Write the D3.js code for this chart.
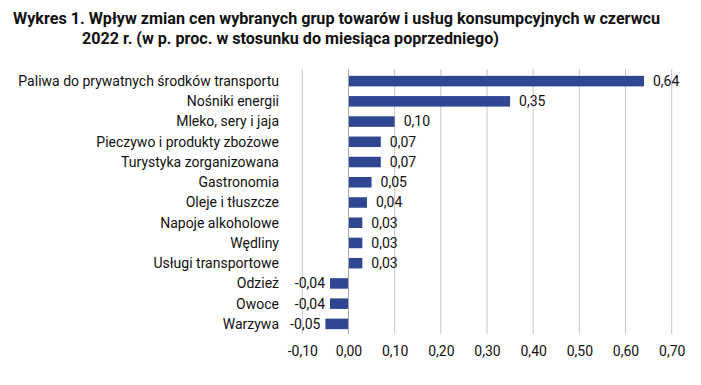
<!DOCTYPE html>
<html>
<head>
<meta charset="utf-8">
<script src="https://cdn.jsdelivr.net/npm/d3@7"></script>
<style>
    body { margin: 0; background: #fff; }
    svg text { font-family: "Roboto", "Liberation Sans", sans-serif; fill: #111; }
</style>
</head>
<body>
<svg id="chart" width="701" height="385"></svg>
<script>
// Chart data.
const categories = [
    "Paliwa do prywatnych środków transportu",
    "Nośniki energii",
    "Mleko, sery i jaja",
    "Pieczywo i produkty zbożowe",
    "Turystyka zorganizowana",
    "Gastronomia",
    "Oleje i tłuszcze",
    "Napoje alkoholowe",
    "Wędliny",
    "Usługi transportowe",
    "Odzież",
    "Owoce",
    "Warzywa"
];
const values = [0.64, 0.35, 0.10, 0.07, 0.07, 0.05, 0.04, 0.03, 0.03, 0.03, -0.04, -0.04, -0.05];
const tickValues = [-0.1, 0, 0.1, 0.2, 0.3, 0.4, 0.5, 0.6, 0.7];
const titleLines = [
    "Wykres 1. Wpływ zmian cen wybranych grup towarów i usług konsumpcyjnych w czerwcu",
    "2022 r. (w p. proc. w stosunku do miesiąca poprzedniego)"
];

// Display parameters.
let barColour = "#2f4793";
let gridColour = "#c6c6c6";
let fontSize = 14;
let fmt = v => d3.format(".2f")(v).replace(".", ",").replace("−", "-");

let svg = d3.select("#chart");

// Title, squeezed to the width of the condensed original.
let title = svg.append("g");
title.append("text")
    .attr("x", 13).attr("y", 24)
    .attr("font-size", 16).attr("font-weight", "bold")
    .attr("textLength", 647).attr("lengthAdjust", "spacingAndGlyphs")
    .text(titleLines[0]);
title.append("text")
    .attr("x", 82).attr("y", 44)
    .attr("font-size", 16).attr("font-weight", "bold")
    .attr("textLength", 417).attr("lengthAdjust", "spacingAndGlyphs")
    .text(titleLines[1]);

// Scales.
let x = d3.scaleLinear().domain([-0.1, 0.7]).range([302.3, 671.7]);
let y = d3.scaleBand().domain(categories).range([71, 334]).paddingInner(0.48).paddingOuter(0.24);

// Vertical gridlines.
svg.append("g")
    .selectAll("line")
    .data(tickValues)
    .enter()
    .append("line")
    .attr("x1", d => x(d)).attr("x2", d => x(d))
    .attr("y1", 69).attr("y2", 334)
    .attr("stroke", gridColour)
    .attr("stroke-width", 1);

// X axis tick labels.
let xAxis = svg.append("g")
    .attr("transform", "translate(0,343)")
    .call(d3.axisBottom(x).tickValues(tickValues).tickSize(0).tickFormat(fmt));
xAxis.select(".domain").remove();
xAxis.selectAll("text")
    .attr("font-size", fontSize)
    .attr("font-family", null)
    .attr("fill", "#111");

// Bars.
svg.append("g")
    .selectAll("rect")
    .data(values)
    .enter()
    .append("rect")
    .attr("x", d => x(Math.min(0, d)))
    .attr("y", (d, i) => y(categories[i]))
    .attr("width", d => Math.abs(x(d) - x(0)))
    .attr("height", y.bandwidth())
    .attr("fill", barColour);

// Zero line.
svg.append("line")
    .attr("x1", x(0)).attr("x2", x(0))
    .attr("y1", 69).attr("y2", 334)
    .attr("stroke", "#a8a8a8");

// Category labels.
svg.append("g")
    .selectAll("text")
    .data(categories)
    .enter()
    .append("text")
    .attr("x", 279)
    .attr("y", d => y(d) + y.bandwidth() / 2)
    .attr("dy", "0.35em")
    .attr("text-anchor", "end")
    .attr("font-size", fontSize)
    .text(d => d);

// Value labels.
svg.append("g")
    .selectAll("text")
    .data(values)
    .enter()
    .append("text")
    .attr("x", d => d >= 0 ? x(d) + 9 : x(d) - 5)
    .attr("y", (d, i) => y(categories[i]) + y.bandwidth() / 2)
    .attr("dy", "0.35em")
    .attr("text-anchor", d => d >= 0 ? "start" : "end")
    .attr("font-size", fontSize)
    .text(d => fmt(d));
</script>
</body>
</html>
